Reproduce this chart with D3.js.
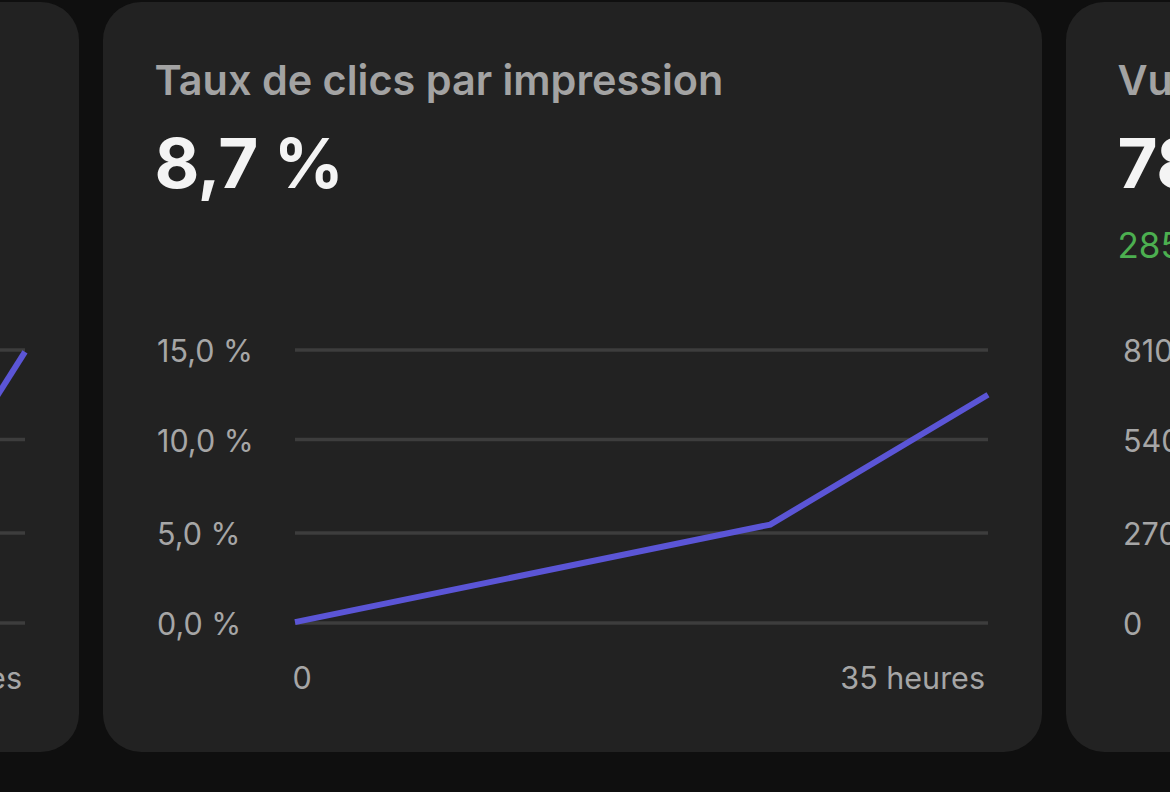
<!DOCTYPE html>
<html lang="fr">
<head>
<meta charset="utf-8">
<script src="https://cdn.jsdelivr.net/npm/d3@7"></script>
<style>
html,body{margin:0;padding:0;background:#0f0f0f;overflow:hidden}
svg{display:block}
.title{font:600 41.4px Inter,sans-serif;fill:#a3a3a3}
.big{font:700 69px Inter,sans-serif;fill:#f4f4f4;letter-spacing:-0.5px}
.delta{font:400 35px Inter,sans-serif;fill:#4caf50}
.tick text,.xl{font:400 30.5px Inter,sans-serif;fill:#a6a6a6}
</style>
</head>
<body>
<svg id="c" width="1170" height="792"></svg>
<script>
const centerTitle = "Taux de clics par impression";
const centerValue = "8,7 %";
const yLevels = [0, 5, 10, 15];
const yTickLabels = ["0,0 %", "5,0 %", "10,0 %", "15,0 %"];
const xEnds = [0, 35];
const xLabels = ["0", "35 heures"];
const centerHours = [0, 24, 35];
const centerRates = [0.05, 5.45, 12.5];
const leftHours = [33, 35];
const leftRates = [11.4, 14.9];
const rightTitle = "Vu";
const rightValue = "78";
const rightDelta = "285";
const rightLevels = [0, 1, 2, 3];
const rightTickLabels = ["0", "270", "540", "810"];

const W = 1170, H = 792;
const svg = d3.select("#c");
const cardW = 939, cardTop = 2, cardH = 750;
const gridPx = [623, 533, 439.5, 350];
const plotL = 192, plotR = 885;

function card(cx) {
  return svg.append("g").attr("transform", `translate(${cx},0)`)
    .call(g => g.append("rect").attr("x", 0).attr("y", cardTop).attr("width", cardW)
      .attr("height", cardH).attr("rx", 38).attr("fill", "#222222"));
}
function yAxis(g, levels, labels, labelX) {
  const y = d3.scaleLinear().domain(levels).range(gridPx);
  const axis = d3.axisLeft(y).tickValues(levels).tickFormat((d, i) => labels[i]).tickSize(0);
  const a = g.append("g").attr("transform", `translate(${labelX},1)`).call(axis);
  a.select(".domain").remove();
  a.selectAll(".tick text").attr("x", 0).attr("dy", "0.35em").attr("text-anchor", "start");
  return y;
}
function grid(g, y, levels) {
  g.append("g").selectAll("line").data(levels).join("line")
    .attr("x1", plotL).attr("x2", plotR)
    .attr("y1", d => y(d)).attr("y2", d => y(d))
    .attr("stroke", "#3d3d3d").attr("stroke-width", 3.5);
}
function trend(g, y, hours, rates) {
  const x = d3.scaleLinear().domain(xEnds).range([plotL, plotR]);
  const pts = hours.map((h, i) => [h, rates[i]]);
  g.append("path").datum(pts)
    .attr("fill", "none").attr("stroke", "#5b55d6").attr("stroke-width", 6)
    .attr("stroke-linejoin", "miter")
    .attr("d", d3.line().x(d => x(d[0])).y(d => y(d[1])));
  return x;
}

// Left card (mostly cropped by the frame)
const left = card(-860);
const yLeft = d3.scaleLinear().domain(yLevels).range(gridPx);
grid(left, yLeft, yLevels);
trend(left, yLeft, leftHours, leftRates);
left.append("text").attr("class", "xl").attr("x", 882).attr("y", 689)
  .attr("text-anchor", "end").text(xLabels[1]);

// Centre card
const mid = card(103);
mid.append("text").attr("class", "title").attr("x", 51.5).attr("y", 95).text(centerTitle);
mid.append("text").attr("class", "big").attr("x", 51.5).attr("y", 188).text(centerValue);
const yMid = yAxis(mid, yLevels, yTickLabels, 54);
grid(mid, yMid, yLevels);
trend(mid, yMid, centerHours, centerRates);
mid.append("text").attr("class", "xl").attr("x", 189.5).attr("y", 689).text(xLabels[0]);
mid.append("text").attr("class", "xl").attr("x", 882).attr("y", 689)
  .attr("text-anchor", "end").text(xLabels[1]);

// Right card (cropped by the frame)
const right = card(1066);
right.append("text").attr("class", "title").attr("x", 51.5).attr("y", 95).text(rightTitle);
right.append("text").attr("class", "big").attr("x", 51.5).attr("y", 188).text(rightValue);
right.append("text").attr("class", "delta").attr("x", 51.5).attr("y", 258).text(rightDelta);
yAxis(right, rightLevels, rightTickLabels, 57);
</script>
</body>
</html>
